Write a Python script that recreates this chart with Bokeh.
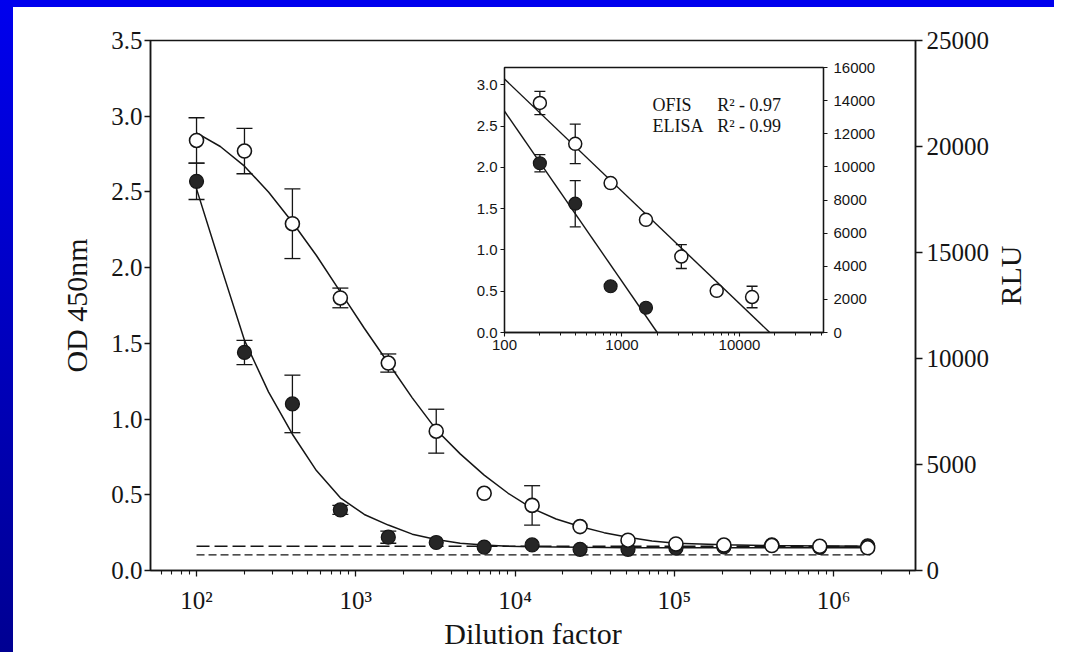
import math
from bokeh.plotting import figure
from bokeh.models import Range1d, LinearAxis, FixedTicker, ColumnDataSource, Whisker, TeeHead, PrintfTickFormatter
from bokeh.core.properties import value
from bokeh.embed import file_html
from bokeh.resources import INLINE

# ---------------- data ----------------
dilution = [100, 200, 400, 800, 1600, 3200, 6400, 12800, 25600, 51200,
            102400, 204800, 409600, 819200, 1638400]
open_od = [2.84, 2.77, 2.29, 1.80, 1.37, 0.92, 0.51, 0.43, 0.29, 0.20,
           0.175, 0.168, 0.165, 0.16, 0.15]
open_err = [0.15, 0.15, 0.23, 0.065, 0.06, 0.145, 0.0, 0.13, 0.0, 0.0,
            0.0, 0.0, 0.0, 0.0, 0.0]
filled_od = [2.57, 1.44, 1.10, 0.40, 0.22, 0.185, 0.155, 0.169, 0.14, 0.14,
             0.147, 0.156, 0.169, 0.152, 0.163]
filled_err = [0.12, 0.08, 0.19, 0.03, 0.04, 0.0, 0.0, 0.0, 0.0, 0.0,
              0.0, 0.0, 0.0, 0.0, 0.0]

# fitted curves
curve_x = [100, 141, 200, 283, 400, 566, 800, 1131, 1600, 2263, 3200, 4525,
           6400, 9051, 12800, 18102, 25600, 36204, 51200, 72408, 102400,
           204800, 409600, 819200, 1638400]
open_curve = [2.89, 2.80, 2.67, 2.50, 2.30, 2.08, 1.84, 1.60, 1.37, 1.14, 0.93, 0.77,
              0.63, 0.51, 0.41, 0.34, 0.29, 0.25, 0.22, 0.195, 0.18,
              0.17, 0.165, 0.162, 0.16]
filled_curve = [2.52, 2.02, 1.52, 1.18, 0.90, 0.66, 0.48, 0.37, 0.30, 0.24, 0.205, 0.18,
                0.168, 0.16, 0.157, 0.155, 0.153, 0.152, 0.151, 0.15, 0.15,
                0.15, 0.15, 0.15, 0.15]

# cut-off (background) lines
cutoff_x = [100, 1700000]
cutoff_upper = [0.16, 0.16]
cutoff_lower = [0.103, 0.103]

y_ticks = [0.0, 0.5, 1.0, 1.5, 2.0, 2.5, 3.0, 3.5]
rlu_ticks = [0, 5000, 10000, 15000, 20000, 25000]
x_ticks = [100, 1000, 10000, 100000, 1000000]
x_labels = ["10\u00b2", "10\u00b3", "10\u2074", "10\u2075", "10\u2076"]

# inset
inset_open_x = [200, 400, 800, 1600, 3200, 6400, 12800]
inset_open = [2.78, 2.285, 1.81, 1.365, 0.92, 0.505, 0.43]
inset_open_err = [0.14, 0.24, 0.0, 0.0, 0.145, 0.0, 0.13]
inset_filled_x = [200, 400, 800, 1600]
inset_filled = [2.05, 1.56, 0.56, 0.30]
inset_filled_err = [0.105, 0.28, 0.0, 0.0]
ofis_fit_x = [100, 18100]
ofis_fit_y = [3.07, 0.0]
elisa_fit_x = [100, 1995]
elisa_fit_y = [2.68, 0.0]
inset_y_ticks = [0.0, 0.5, 1.0, 1.5, 2.0, 2.5, 3.0]
inset_rlu_ticks = [0, 2000, 4000, 6000, 8000, 10000, 12000, 14000, 16000]
inset_x_ticks = [100, 1000, 10000]
inset_names = ["OFIS", "ELISA"]
inset_r2 = ["R\u00b2 - 0.97", "R\u00b2 - 0.99"]

SERIF = "Liberation Serif"
SANS = "Liberation Sans"
INK = "#151515"


def minor_log(lo_exp, hi_exp, lo, hi):
    out = []
    for e in range(lo_exp, hi_exp + 1):
        for m in range(2, 10):
            v = m * 10 ** e
            if lo <= v <= hi:
                out.append(v)
    return out


def add_errors(fig, xs, ys, errs, cap):
    keep = [i for i, e in enumerate(errs) if e > 0]
    src = ColumnDataSource(dict(x=[xs[i] for i in keep],
                                lo=[ys[i] - errs[i] for i in keep],
                                hi=[ys[i] + errs[i] for i in keep]))
    w = Whisker(source=src, base="x", lower="lo", upper="hi", dimension="height",
                line_color=INK, line_width=1.3,
                upper_head=TeeHead(size=cap, line_color=INK, line_width=1.3),
                lower_head=TeeHead(size=cap, line_color=INK, line_width=1.3))
    fig.add_layout(w)


# ---------------- main figure ----------------
main = figure(width=1054, height=652, x_axis_type="log",
              x_range=Range1d(51.4, 3.27e6), y_range=Range1d(0, 3.5),
              output_backend="svg", toolbar_location=None,
              min_border_left=150, min_border_right=139,
              min_border_top=40, min_border_bottom=81)
main.grid.visible = False
main.border_fill_alpha = 0
main.background_fill_color = "white"
main.outline_line_color = INK
main.outline_line_width = 1.5
main.styles = {
    "background": ("linear-gradient(to bottom, #0000ee, #000092) 0 0 / 13px 100% no-repeat, "
                   "linear-gradient(#0000ee, #0000ee) 0 0 / 100% 7px no-repeat, #ffffff"),
}

main.extra_y_ranges = {"rlu": Range1d(0, 25000)}
rax = LinearAxis(y_range_name="rlu", axis_label="RLU")
main.add_layout(rax, "right")

xax = main.xaxis[0]
xax.ticker = FixedTicker(ticks=x_ticks, minor_ticks=minor_log(1, 6, 51.4, 3.27e6))
xax.major_label_overrides = {t: l for t, l in zip(x_ticks, x_labels)}
xax.axis_label = "Dilution factor"
xax.major_label_standoff = 10
xax.axis_label_standoff = 0

yax = main.yaxis[0]
yax.ticker = FixedTicker(ticks=y_ticks)
yax.formatter = PrintfTickFormatter(format="%.1f")
yax.axis_label = "OD 450nm"
yax.major_label_standoff = 2
yax.axis_label_standoff = 15

rax.ticker = FixedTicker(ticks=rlu_ticks)
rax.major_label_standoff = 4
rax.axis_label_standoff = 18
rax.axis_label_orientation = math.pi / 2

for ax in (xax, yax, rax):
    ax.axis_line_color = INK
    ax.axis_line_width = 1.5
    ax.major_tick_line_color = INK
    ax.major_tick_line_width = 1.3
    ax.major_tick_in = 0
    ax.major_tick_out = 6
    ax.minor_tick_line_color = None
    ax.major_label_text_font = SERIF
    ax.major_label_text_font_size = "25px"
    ax.major_label_text_color = INK
    ax.axis_label_text_font = SERIF
    ax.axis_label_text_font_size = "30px"
    ax.axis_label_text_font_style = "normal"
    ax.axis_label_text_color = INK
rax.major_tick_out = 7
xax.minor_tick_line_color = INK
xax.minor_tick_line_width = 1.1
xax.minor_tick_in = 0
xax.minor_tick_out = 4

# cut-off lines
main.line(cutoff_x, cutoff_upper, line_color=INK, line_width=1.4, line_dash="13 5")
main.line(cutoff_x, cutoff_lower, line_color=INK, line_width=1.4, line_dash="8 4")

# fitted curves
main.line(curve_x, open_curve, line_color=INK, line_width=1.5)
main.line(curve_x, filled_curve, line_color=INK, line_width=1.5)

add_errors(main, dilution, open_od, open_err, 16)
add_errors(main, dilution, filled_od, filled_err, 16)

main.scatter(dilution, filled_od, size=14, fill_color="#262626", line_color="#151515", line_width=1.2)
main.scatter(dilution, open_od, size=14, fill_color="white", line_color=INK, line_width=1.6)

# ---------------- inset figure ----------------
inset = figure(width=421, height=305, x_axis_type="log",
               x_range=Range1d(100, 51900), y_range=Range1d(0, 3.21),
               output_backend="svg", toolbar_location=None,
               min_border_left=40, min_border_right=62,
               min_border_top=14, min_border_bottom=26)
inset.grid.visible = False
inset.border_fill_alpha = 0
inset.background_fill_color = "white"
inset.outline_line_color = INK
inset.outline_line_width = 1.3
inset.styles = {"position": "absolute", "left": "464px", "top": "53px"}

inset.extra_y_ranges = {"rlu": Range1d(0, 16000)}
irax = LinearAxis(y_range_name="rlu")
inset.add_layout(irax, "right")

ixax = inset.xaxis[0]
ixax.ticker = FixedTicker(ticks=inset_x_ticks, minor_ticks=minor_log(2, 4, 100, 51900))
ixax.major_label_overrides = {t: str(t) for t in inset_x_ticks}
iyax = inset.yaxis[0]
iyax.ticker = FixedTicker(ticks=inset_y_ticks)
iyax.formatter = PrintfTickFormatter(format="%.1f")
irax.ticker = FixedTicker(ticks=inset_rlu_ticks)

for ax in (ixax, iyax, irax):
    ax.axis_line_color = INK
    ax.axis_line_width = 1.3
    ax.major_tick_line_color = INK
    ax.major_tick_line_width = 1.1
    ax.major_tick_in = 0
    ax.major_tick_out = 4
    ax.minor_tick_line_color = None
    ax.major_label_text_font = SANS
    ax.major_label_text_font_size = "15px"
    ax.major_label_text_color = INK
    ax.major_label_standoff = 3
irax.major_label_standoff = 6
ixax.minor_tick_line_color = INK
ixax.minor_tick_in = 0
ixax.minor_tick_out = 3

inset.line(ofis_fit_x, ofis_fit_y, line_color=INK, line_width=1.4)
inset.line(elisa_fit_x, elisa_fit_y, line_color=INK, line_width=1.4)
add_errors(inset, inset_open_x, inset_open, inset_open_err, 11)
add_errors(inset, inset_filled_x, inset_filled, inset_filled_err, 11)
inset.scatter(inset_filled_x, inset_filled, size=13, fill_color="#262626", line_color="#151515", line_width=1.2)
inset.scatter(inset_open_x, inset_open, size=13, fill_color="white", line_color=INK, line_width=1.5)

inset.text(x=[1820, 1820], y=[2.757, 2.50], text=inset_names,
           text_font=value(SERIF), text_font_size="18px", text_color=INK,
           text_baseline="alphabetic", text_align="left")
inset.text(x=[6460, 6460], y=[2.757, 2.50], text=inset_r2,
           text_font=value(SERIF), text_font_size="18px", text_color=INK,
           text_baseline="alphabetic", text_align="left")

p = [main, inset]

open("out.html", "w").write(file_html(p, INLINE))
